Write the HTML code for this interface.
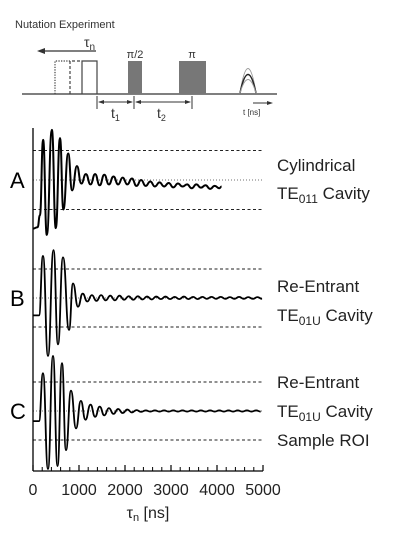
<!DOCTYPE html>
<html><head><meta charset="utf-8"><style>
html,body{margin:0;padding:0;background:#fff;}
svg{display:block;font-family:"Liberation Sans",sans-serif;}
</style></head><body>
<svg id="fig" width="400" height="542" viewBox="0 0 400 542">
<g>
<text x="15" y="28" font-size="11" fill="#333">Nutation  Experiment</text>
<line x1="22" y1="94" x2="277" y2="94" stroke="#555" stroke-width="1.5"/>
<line x1="40" y1="51" x2="96" y2="51" stroke="#333" stroke-width="1.3"/>
<polygon points="37,51 45,48 45,54" fill="#333"/>
<text x="84" y="47" font-size="14" fill="#333">τ<tspan font-size="10" dy="3">n</tspan></text>
<polyline points="82,94 82,61 97,61 97,94" fill="none" stroke="#444" stroke-width="1.2"/>
<polyline points="70,94 70,61 82,61" fill="none" stroke="#444" stroke-width="1.2" stroke-dasharray="3,2"/>
<polyline points="55,94 55,61 70,61" fill="none" stroke="#444" stroke-width="1.2" stroke-dasharray="1.3,1.3"/>
<rect x="128" y="61" width="14" height="33" fill="#777"/>
<text x="135" y="58" font-size="11" text-anchor="middle" fill="#333">π/2</text>
<rect x="179" y="61" width="27" height="33" fill="#777"/>
<text x="192" y="58" font-size="11" text-anchor="middle" fill="#333">π</text>
<g fill="none" stroke-width="1">
<path d="M240,93 Q248,44 256,93" stroke="#999"/>
<path d="M240,93 Q248,56 256,93" stroke="#222" stroke-width="1.5"/>
<path d="M240,93 Q248,66 256,93" stroke="#999"/>
</g>
<g stroke="#333" stroke-width="1">
<line x1="97" y1="96" x2="97" y2="109"/><line x1="134" y1="96" x2="134" y2="109"/><line x1="192" y1="96" x2="192" y2="109"/>
<line x1="99" y1="102" x2="132" y2="102"/><line x1="136" y1="102" x2="190" y2="102"/>
<line x1="253" y1="103" x2="270" y2="103"/>
</g>
<g fill="#333"><polygon points="98,102 104,100 104,104"/><polygon points="133,102 127,100 127,104"/><polygon points="135,102 141,100 141,104"/><polygon points="191,102 185,100 185,104"/><polygon points="273,103 267,101 267,105"/></g>
<text x="111" y="118" font-size="14" fill="#333">t<tspan font-size="9" dy="3">1</tspan></text>
<text x="157" y="118" font-size="14" fill="#333">t<tspan font-size="9" dy="3">2</tspan></text>
<text x="243" y="115" font-size="8" fill="#333">t [ns]</text>
</g>
<g id="chart"></g>
</svg>
<script>
const xTicks=[0,1000,2000,3000,4000,5000];
const tA=[0,100,150,220,300,410,495,587,660,765,850,955,1050,1150,1250,1350,1450,1550,1650,1750,1850,1950,2050,2150,2250,2350,2450,2550,2650,2750,2850,2950,3050,3150,3250,3350,3450,3550,3650,3750,3850,3950,4050,4100];
const vA=[-1.65,-1.6,-1.2,1.36,-1.86,1.7,-1.63,1.42,-1.0,0.9,-0.35,0.47,-0.12,0.2,-0.15,0.2,-0.18,0.18,-0.15,0.12,-0.15,0.08,-0.15,0.05,-0.2,0.0,-0.2,-0.05,-0.22,-0.08,-0.22,-0.1,-0.25,-0.12,-0.22,-0.15,-0.28,-0.15,-0.26,-0.18,-0.3,-0.2,-0.28,-0.22];
const tB=[0,130,217,326,446,543,652,783,870,978,1080,1180,1280,1380,1480,1580,1680,1780,1880,1980,2080,2180,2280,2380,2480,2580,2680,2780,2880,2980,3080,3180,3280,3380,3480,3580,3680,3780,3880,3980,4080,4180,4280,4380,4480,4580,4680,4780,4880,4980];
const vB=[-0.6,-0.6,1.45,-2.0,1.65,-1.6,1.4,-1.1,0.5,-0.3,0.15,-0.12,0.1,-0.1,0.1,-0.08,0.08,-0.08,0.08,-0.06,0.06,-0.06,0.06,-0.05,0.05,-0.05,0.05,-0.04,0.05,-0.04,0.04,-0.04,0.05,-0.04,0.04,-0.04,0.04,-0.03,0.04,-0.03,0.04,-0.03,0.03,-0.03,0.04,-0.03,0.03,-0.03,0.03,-0.03];
const tC=[0,130,217,326,435,533,630,717,826,935,1040,1140,1250,1350,1450,1550,1650,1750,1850,1950,2050,2150,2250,2350,2450,2550,2650,2750,2850,2950,3050,3150,3250,3350,3450,3550,3650,3750,3850,3950,4050,4150,4250,4350,4450,4550,4650,4750,4850,4950];
const vC=[-0.35,-0.35,1.3,-2.0,1.9,-1.9,1.65,-1.35,0.7,-0.6,0.35,-0.3,0.22,-0.2,0.15,-0.15,0.1,-0.1,0.07,-0.07,0.05,-0.05,0.03,-0.03,0.02,-0.02,0.02,-0.02,0.02,-0.02,0.02,-0.02,0.02,-0.02,0.02,-0.02,0.02,-0.02,0.02,-0.02,0.02,-0.02,0.02,-0.02,0.02,-0.02,0.02,-0.02,0.02,-0.02];
const NS="http://www.w3.org/2000/svg";
const g=document.getElementById('chart');
const X=t=>33+t*230/5000;
const panels=[{c:180,s:29.5,t:tA,v:vA,L:"A",lab:[["Cylindrical",171],["TE","011"," Cavity",199]]},
{c:298,s:29,t:tB,v:vB,L:"B",lab:[["Re-Entrant",292],["TE","01U"," Cavity",321]]},
{c:411,s:29,t:tC,v:vC,L:"C",lab:[["Re-Entrant",388],["TE","01U"," Cavity",417],["Sample ROI",446]]}];
function mk(tag,attrs){const e=document.createElementNS(NS,tag);for(const k in attrs)e.setAttribute(k,attrs[k]);g.appendChild(e);return e;}
panels.forEach((p,pi)=>{
 [-1,1].forEach(k=>{const l=mk('line',{x1:33,x2:263,y1:p.c-k*p.s,y2:p.c-k*p.s,stroke:'#222','stroke-width':1,'stroke-dasharray':'3,2.5'});
 
 });
 const cl=mk('line',{x1:33,x2:263,y1:p.c,y2:p.c,stroke:'#444','stroke-width':0.8,'stroke-dasharray':'1,2'});
 
 
 let d='M'+X(p.t[0])+','+(p.c-p.v[0]*p.s);
 for(let i=1;i<p.t.length;i++){const x0=X(p.t[i-1]),x1=X(p.t[i]),y0=p.c-p.v[i-1]*p.s,y1=p.c-p.v[i]*p.s,m=(x0+x1)/2;d+=` C${m},${y0} ${m},${y1} ${x1},${y1}`;}
 const path=mk('path',{d:d,fill:'none',stroke:'#000','stroke-width':pi==0?2:1.8,'stroke-linejoin':'round'});
 
 
 const L=mk('text',{x:10,y:p.c+8,'font-size':22});L.textContent=p.L;
 
 
 p.lab.forEach(a=>{const t=mk('text',{x:277,y:a[a.length-1],'font-size':17,fill:'#222'});
  if(a.length==2)t.textContent=a[0];else{t.textContent=a[0];const s=document.createElementNS(NS,'tspan');s.setAttribute('font-size','12');s.setAttribute('dy','4');s.textContent=a[1];t.appendChild(s);const s2=document.createElementNS(NS,'tspan');s2.setAttribute('dy','-4');s2.textContent=a[2];t.appendChild(s2);}
  
  });
});
const ya=mk('line',{x1:33,x2:33,y1:128,y2:471,stroke:'#000','stroke-width':1.3});


const xa=mk('line',{x1:33,x2:263,y1:471,y2:471,stroke:'#000','stroke-width':1.3});


for(let t=0;t<=5000;t+=200){const tk=mk('line',{x1:X(t),x2:X(t),y1:471,y2:467,stroke:'#000','stroke-width':1});
 
 }
xTicks.forEach(t=>{const tk=mk('line',{x1:X(t),x2:X(t),y1:471,y2:465,stroke:'#000','stroke-width':1.2});
 
 
 const tl=mk('text',{x:X(t),y:495,'font-size':16,'text-anchor':'middle',fill:'#222'});tl.textContent=t;
 
 });
const xt=mk('text',{x:148,y:518,'font-size':16,'text-anchor':'middle',fill:'#222'});xt.textContent='τ';
const sb=document.createElementNS(NS,'tspan');sb.setAttribute('font-size','11');sb.setAttribute('dy','3');sb.textContent='n';xt.appendChild(sb);
const s3=document.createElementNS(NS,'tspan');s3.setAttribute('dy','-3');s3.textContent=' [ns]';xt.appendChild(s3);


</script>
</body></html>
